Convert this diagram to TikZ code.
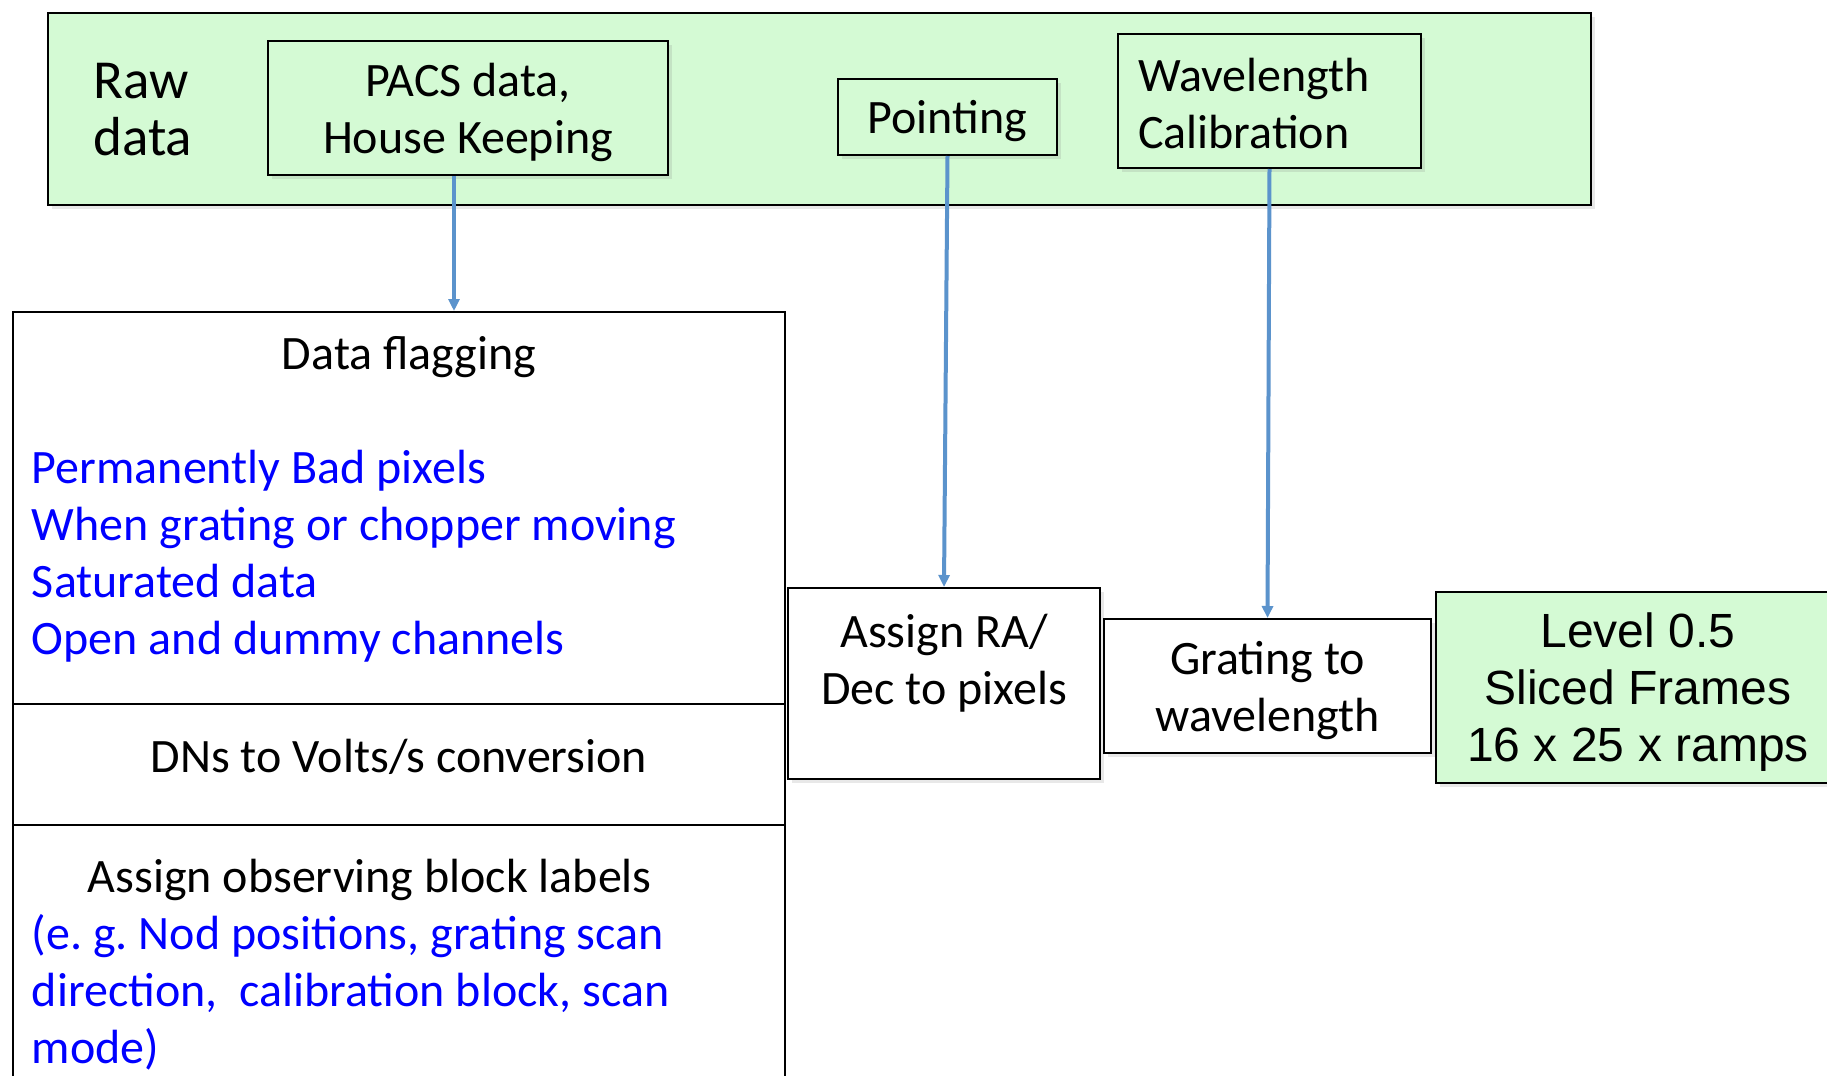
\documentclass[tikz,border=0pt]{standalone}
\usepackage{fontspec}
\setmainfont{Carlito}
\newfontfamily\arialfont{Liberation Sans}
\usetikzlibrary{arrows.meta,shadows}
\definecolor{couleurvert}{HTML}{D4FAD4}
\definecolor{couleurfleche}{HTML}{5B93CC}
\definecolor{couleurbleu}{HTML}{0000FF}
\newcommand{\lienvert}[2]{\draw[lien] (#1.south) -- (#2.north);}
\newcommand{\descente}[1]{\rule[-#1]{0pt}{#1}}
\newcommand{\montee}[1]{\rule{0pt}{#1}}
\tikzset{
		basic/.style={draw, line width=1pt, align=flush center, inner sep=0pt},
		ombre/.style={drop shadow={shadow xshift=2pt, shadow yshift=-2pt, opacity=0.18}},
		donnee/.style={basic, fill=couleurvert, ombre},
		etape/.style={basic, fill=white},
		lien/.style={draw=couleurfleche, line width=2pt, -{Triangle[length=6pt,width=5.5pt]}}
	}
\begin{document}
\begin{tikzpicture}[x=0.5pt, y=-0.5pt]
		\fontsize{24}{28.5}\selectfont \frenchspacing
		\clip (0,0) rectangle (1827,1076);
		\fill[white] (0,0) rectangle (1827,1076);
		% donnees brutes
		\node[donnee, anchor=north west, minimum width=771.5pt, minimum height=96pt](rawbloc) at (47,12) {};
		\node[anchor=west, align=flush left, inner sep=0pt, font=\fontsize{27.5}{28.5}\selectfont](rawdata) at (93,110) {Raw\\data};
		\node[donnee, minimum width=200pt, minimum height=67pt, text depth=0pt](pacsdata) at (468,108) {PACS data,\\House Keeping};
		\node[donnee, minimum width=109.5pt, minimum height=38pt, text depth=0pt](pointing) at (947.5,117) {Pointing};
		\node[donnee, align=flush left, text width=131.5pt, inner xsep=10pt, minimum height=67pt](wavecali) at (1269.5,101) {\montee{19.5pt}Wavelength\\Calibration};
		% colonne de gauche
		\node[etape, anchor=north west, align=flush left, text width=367pt, inner xsep=9.5pt, minimum height=196pt](dataflag) at (12,311) {\hspace*{125pt}Data flagging\\[28.5pt]
			\color{couleurbleu}Permanently Bad pixels\\When grating or chopper moving\\Saturated data\\Open and dummy channels\descente{13pt}};
		\node[etape, anchor=north west, minimum width=386pt, minimum height=60.5pt, text depth=8.5pt](dnsvolts) at (12,703) {DNs to Volts/s conversion};
		\node[etape, anchor=north west, align=flush left, text width=367pt, inner xsep=9.5pt, minimum height=140pt](assgnobs) at (12,824) {\hspace*{28pt}Assign observing block labels\\
			\color{couleurbleu}(e. g. Nod positions, grating scan\\direction,\ \ calibration block, scan\\mode)};
		% etapes de droite
		\node[etape, ombre, minimum width=156pt, minimum height=95.5pt, text depth=24pt](assgradc) at (944,683.5) {Assign RA/\\Dec to pixels};
		\node[etape, ombre, minimum width=163.5pt, minimum height=67pt, text depth=0pt](gratwave) at (1267.5,686) {Grating to\\wavelength};
		\node[donnee, font=\arialfont, minimum width=202pt, minimum height=95.5pt, text depth=0pt](level05) at (1638,687.5) {Level 0.5\\Sliced Frames\\16 x 25 x ramps};
		% Liens
		\draw[lien] ([xshift=-7pt]pacsdata.south) -- ([xshift=-7pt]pacsdata.south |- dataflag.north);
		\lienvert{pointing}{assgradc}
		\lienvert{wavecali}{gratwave}
	\end{tikzpicture}
\end{document}
